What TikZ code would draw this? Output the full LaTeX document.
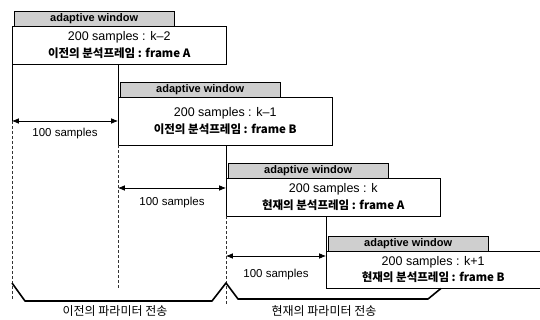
\documentclass[tikz,border=0pt]{standalone}
\usepackage{fontspec}
\setmainfont{Liberation Sans}
\newfontfamily\kr{Noto Sans CJK KR}
\usetikzlibrary{arrows.meta,positioning}

\begin{document}
\begin{tikzpicture}[
    x=1pt, y=-1pt,
    win/.style={rectangle, draw, fill=white, minimum width=214pt, inner sep=0pt,
                anchor=north west, align=center,
                font=\fontsize{12.5}{16.5}\selectfont},
    tab/.style={rectangle, draw, fill=gray!38, minimum width=160pt, minimum height=15pt,
                inner sep=0pt, font=\fontsize{11}{12}\selectfont\bfseries},
    span/.style={{Latex[length=2.4mm,width=2mm]}-{Latex[length=2.4mm,width=2mm]}, thick},
    guide/.style={densely dashed, thin, black!80},
    brace/.style={line width=1.6pt, line join=round},
    lbl/.style={font=\fontsize{11.5}{12}\selectfont}
  ]
    \useasboundingbox (0,0) rectangle (540,320);
    % four overlapping analysis windows
    \foreach \n/\x/\y/\h/\kk/\pre/\fr in {1/12/26/38/k--2/이전/A, 2/118/97/48/k--1/이전/B,
                                          3/226/178/38/k/현재/A, 4/326/251/37/k+1/현재/B}
    {
      \node[win, minimum height=\h pt] (win\n) at (\x,\y)
        {200 samples : \kk\\{\kr\bfseries\fontsize{11.5}{16.5}\selectfont {\pre}의 분석프레임 : frame \fr}};
      \node[tab, above right=0pt and 2pt of win\n.north west] (tab\n) {adaptive window};
    }
    % left edges running down
    \draw (win1.south west) -- (win1.south west |- 0,121);
    \foreach \a/\b in {1/2, 2/3, 3/4}
      \draw (win\b.north west |- win\a.south) -- (win\b.north west);
    \draw[guide] (win1.south west |- 0,121) -- (win1.south west |- 0,300);
    \draw[guide] (win2.south west) -- (win2.south west |- 0,290);
    \draw[guide] (win3.south west) -- (win3.south west |- 0,306);
    % hop sizes
    \coordinate (h1) at (12,121);
    \coordinate (h2) at (118,188);
    \coordinate (h3) at (226,256);
    \draw[span] (h1) -- (win2.west |- h1) node[lbl, midway, below=3pt] (s1) {100 samples};
    \draw[span] (h2) -- (win3.west |- h2) node[lbl, midway, below=5pt] (s2) {100 samples};
    \draw[span] (h3) -- (win4.west |- h3) node[lbl, midway, below=9pt] (s3) {100 samples};
    % parameter transmission brackets
    \coordinate (b0) at (12,283);
    \draw[brace] (b0) -- ++(13,18) -- ++(187,0) -- ++(14,-18) coordinate (b1)
                 -- ++(12,16) -- ++(190,0) -- (win4.south -| 441,0);
    \node[font=\kr\fontsize{12}{13}\selectfont] (prev) at (115,311) {이전의 파라미터 전송};
    \node[font=\kr\fontsize{12}{13}\selectfont] (curr) at (324,311) {현재의 파라미터 전송};
\end{tikzpicture}
\end{document}
